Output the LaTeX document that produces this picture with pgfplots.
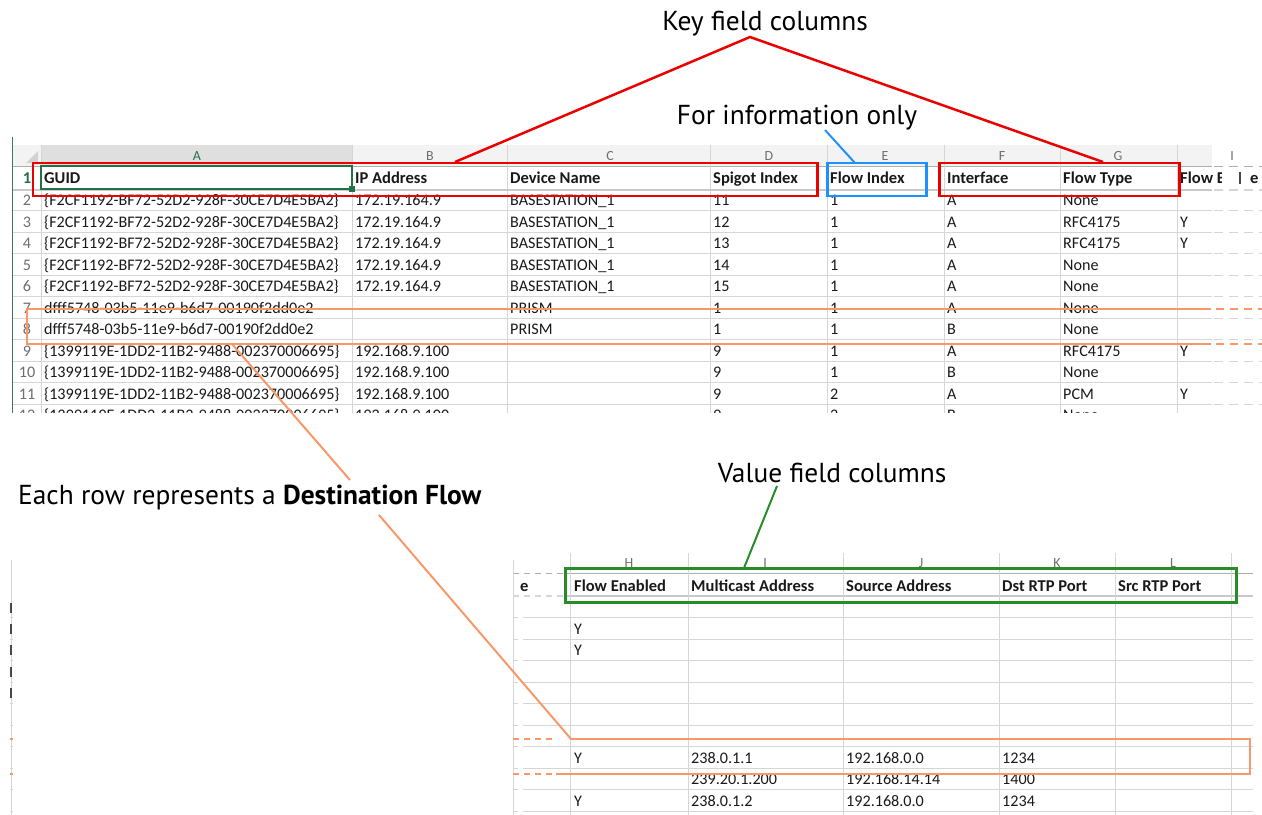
\documentclass[border=0pt]{standalone}
\usepackage{pgfplots}
\pgfplotsset{compat=1.18}
\usepackage{fontspec}
\setmainfont{Carlito}
\newfontfamily\annfont{PT Sans}
\definecolor{kred}{RGB}{235,0,0}
\definecolor{kblue}{RGB}{30,144,255}
\definecolor{kgreen}{RGB}{40,140,40}
\definecolor{korange}{RGB}{248,152,104}
\definecolor{gridc}{RGB}{214,214,214}
\definecolor{gridd}{RGB}{175,175,175}
\definecolor{celltxt}{RGB}{25,25,25}
\definecolor{hdrtxt}{RGB}{110,110,110}
\definecolor{selgreen}{RGB}{33,115,70}
\definecolor{hdrbg}{RGB}{243,243,243}
\definecolor{selbg}{RGB}{223,223,223}
\newcommand{\cf}{\fontsize{16.2}{19}\selectfont}
\newcommand{\hf}{\fontsize{16.6}{19}\selectfont\bfseries}
\newcommand{\lf}{\fontsize{14}{16}\selectfont}
\newcommand{\af}{\annfont\fontsize{27.5}{32}\selectfont}
\newcommand{\CellT}[3]{\node[anchor=base west,inner sep=0pt,text=celltxt,font=\cf] at (axis cs:#1,#2) {#3};}
\newcommand{\CellH}[3]{\node[anchor=base west,inner sep=0pt,text=celltxt,font=\hf] at (axis cs:#1,#2) {#3};}
\newcommand{\RowNum}[2]{\node[anchor=base,inner sep=0pt,text=hdrtxt,font=\cf] at (axis cs:27,#1) {#2};}
\newcommand{\TopRow}[9]{\CellT{44}{#1}{#2}\CellT{355}{#1}{#3}\CellT{510}{#1}{#4}\CellT{713}{#1}{#5}\CellT{830}{#1}{#6}\CellT{947}{#1}{#7}\CellT{1063}{#1}{#8}\CellT{1180}{#1}{#9}}
\newcommand{\BotRow}[6]{\CellT{574}{#1}{#2}\CellT{691}{#1}{#3}\CellT{846}{#1}{#4}\CellT{1002}{#1}{#5}\CellT{1118}{#1}{#6}}
\newcommand{\GA}{\{F2CF1192-BF72-52D2-928F-30CE7D4E5BA2\}}
\newcommand{\GB}{dfff5748-03b5-11e9-b6d7-00190f2dd0e2}
\newcommand{\GC}{\{1399119E-1DD2-11B2-9488-002370006695\}}
\begin{document}
\begin{tikzpicture}
\begin{axis}[width=1262bp,height=815bp,scale only axis,
  xmin=0,xmax=1262,ymin=0,ymax=815,y dir=reverse,
  hide axis,clip=false,no markers]
\coordinate (SW) at (axis cs:0,815);
\coordinate (NE) at (axis cs:1262,0);
% ---------- top sheet: header band
\addplot[fill=hdrbg,draw=none] coordinates {(13,145) (1212,145) (1212,166) (13,166)} --cycle;
\addplot[fill=selbg,draw=none] coordinates {(41,145) (352,145) (352,166) (41,166)} --cycle;
\addplot[fill=gray!35,draw=none] coordinates {(38,151) (38,163) (26,163)} --cycle;
% horizontal grid
\pgfplotsinvokeforeach{210.5,232,253.5,275,296.5,318,339.5,361,382.5,404}{
  \addplot[gridc,line width=1pt] coordinates {(13,#1) (1212,#1)};
  \addplot[gridc,line width=1pt,dash pattern=on 9pt off 6pt] coordinates {(1214,#1) (1262,#1)};
}
\addplot[gridd,line width=1pt] coordinates {(13,166) (1212,166)};
\addplot[gridd,line width=1pt,dash pattern=on 9pt off 6pt] coordinates {(1214,166) (1262,166)};
% vertical grid
\pgfplotsinvokeforeach{41,352,507,710,827,944,1060,1177}{
  \addplot[gridc,line width=1pt] coordinates {(#1,145) (#1,414)};
}
\addplot[selgreen!70!gray,line width=1pt] coordinates {(12,137) (12,414)};
% column letters
\node[text=selgreen,font=\lf] at (axis cs:197,156) {A};
\node[text=hdrtxt,font=\lf] at (axis cs:430,156) {B};
\node[text=hdrtxt,font=\lf] at (axis cs:610,156) {C};
\node[text=hdrtxt,font=\lf] at (axis cs:769,156) {D};
\node[text=hdrtxt,font=\lf] at (axis cs:885,156) {E};
\node[text=hdrtxt,font=\lf] at (axis cs:1002,156) {F};
\node[text=hdrtxt,font=\lf] at (axis cs:1118,156) {G};
\node[text=hdrtxt,font=\lf] at (axis cs:1232,156) {I};
% row numbers
\node[anchor=base,inner sep=0pt,text=selgreen,font=\hf] at (axis cs:27,184) {1};
\RowNum{205.5}{2}\RowNum{227}{3}\RowNum{248.5}{4}\RowNum{270}{5}\RowNum{291.5}{6}
\RowNum{313}{7}\RowNum{334.5}{8}\RowNum{356}{9}\RowNum{377.5}{10}\RowNum{399}{11}\RowNum{420.5}{12}
% header row
\CellH{44}{184}{GUID}\CellH{355}{184}{IP Address}\CellH{510}{184}{Device Name}
\CellH{713}{184}{Spigot Index}\CellH{830}{184}{Flow Index}\CellH{947}{184}{Interface}
\CellH{1063}{184}{Flow Type}\CellH{1180}{184}{Flow E}
% data rows
\TopRow{205.5}{\GA}{172.19.164.9}{BASESTATION\_1}{11}{1}{A}{None}{}
\TopRow{227}{\GA}{172.19.164.9}{BASESTATION\_1}{12}{1}{A}{RFC4175}{Y}
\TopRow{248.5}{\GA}{172.19.164.9}{BASESTATION\_1}{13}{1}{A}{RFC4175}{Y}
\TopRow{270}{\GA}{172.19.164.9}{BASESTATION\_1}{14}{1}{A}{None}{}
\TopRow{291.5}{\GA}{172.19.164.9}{BASESTATION\_1}{15}{1}{A}{None}{}
\TopRow{313}{\GB}{}{PRISM}{1}{1}{A}{None}{}
\TopRow{334.5}{\GB}{}{PRISM}{1}{1}{B}{None}{}
\TopRow{356}{\GC}{192.168.9.100}{}{9}{1}{A}{RFC4175}{Y}
\TopRow{377.5}{\GC}{192.168.9.100}{}{9}{1}{B}{None}{}
\TopRow{399}{\GC}{192.168.9.100}{}{9}{2}{A}{PCM}{Y}
\TopRow{420.5}{\GC}{192.168.9.100}{}{9}{2}{B}{None}{}
% cut the sheet image
\addplot[fill=white,draw=none] coordinates {(0,413) (1262,413) (1262,440) (0,440)} --cycle;
\addplot[fill=white,draw=none] coordinates {(1222,170) (1262,170) (1262,189) (1222,189)} --cycle;
\addplot[celltxt!80,line width=1.4pt] coordinates {(1240,172) (1240,184)};
\CellH{1250}{184}{e}
% frozen-pane line
\addplot[gridc!85!gray,line width=2.5pt] coordinates {(13,190) (1212,190)};
\addplot[gridc,line width=2.5pt,dash pattern=on 9pt off 6pt] coordinates {(1214,190) (1262,190)};
% selection box A1
\addplot[selgreen,line width=1.6pt] coordinates {(41,166) (352,166) (352,189) (41,189)} --cycle;
\addplot[fill=selgreen,draw=none] coordinates {(349,186) (355,186) (355,192) (349,192)} --cycle;
% ---------- bottom sheet
\pgfplotsinvokeforeach{617.5,639,660.5,682,703.5,725,746.5,768,789.5,811}{
  \addplot[gridc,line width=1pt] coordinates {(528,#1) (1253,#1)};
  \addplot[gridc,line width=1pt,dash pattern=on 5pt off 5pt] coordinates {(513,#1) (528,#1)};
  \addplot[gridc,line width=1pt,dash pattern=on 3pt off 7pt] coordinates {(10,#1) (14,#1)};
}
\addplot[gridd,line width=1pt] coordinates {(565,573) (1253,573)};
\addplot[gridd,line width=1pt,dash pattern=on 6pt off 5pt] coordinates {(513,573) (565,573)};
\addplot[gridc!85!gray,line width=2.5pt] coordinates {(565,596) (1253,596)};
\addplot[gridc,line width=2pt,dash pattern=on 6pt off 5pt] coordinates {(513,596) (565,596)};
\pgfplotsinvokeforeach{570,688,843,999,1115,1231}{
  \addplot[gridc,line width=1pt] coordinates {(#1,553) (#1,815)};
}
\addplot[gridc,line width=1pt] coordinates {(513,560) (513,815)};
\addplot[gridc,line width=1pt] coordinates {(11,560) (11,815)};
\pgfplotsinvokeforeach{608,629,650,672,693}{
  \addplot[celltxt!80,line width=1.6pt] coordinates {(11,#1-5) (11,#1+5)};
}
\node[text=hdrtxt,font=\lf] at (axis cs:629,563) {H};
\node[text=hdrtxt,font=\lf] at (axis cs:765,563) {I};
\node[text=hdrtxt,font=\lf] at (axis cs:921,563) {J};
\node[text=hdrtxt,font=\lf] at (axis cs:1057,563) {K};
\node[text=hdrtxt,font=\lf] at (axis cs:1173,563) {L};
\CellH{574}{591}{Flow Enabled}\CellH{691}{591}{Multicast Address}\CellH{846}{591}{Source Address}
\CellH{1002}{591}{Dst RTP Port}\CellH{1118}{591}{Src RTP Port}
\CellH{520}{591}{e}
\BotRow{634}{Y}{}{}{}{}
\BotRow{655.5}{Y}{}{}{}{}
\BotRow{763}{Y}{238.0.1.1}{192.168.0.0}{1234}{}
\BotRow{784.5}{}{239.20.1.200}{192.168.14.14}{1400}{}
\BotRow{806}{Y}{238.0.1.2}{192.168.0.0}{1234}{}
% ---------- annotation boxes
\addplot[kred,line width=3pt] coordinates {(33,163) (817,163) (817,196) (33,196)} --cycle;
\addplot[kred,line width=3pt] coordinates {(939,163) (1179,163) (1179,196) (939,196)} --cycle;
\addplot[kblue,line width=3pt] coordinates {(827,163) (926,163) (926,196) (827,196)} --cycle;
\addplot[kgreen,line width=3pt] coordinates {(565,568) (1236,568) (1236,602) (565,602)} --cycle;
% orange row highlight (top)
\addplot[korange,line width=2.5pt] coordinates {(1211,309) (27,309) (27,344) (1211,344)};
\addplot[korange,line width=2.5pt,dash pattern=on 8pt off 6pt] coordinates {(1216,309) (1262,309)};
\addplot[korange,line width=2.5pt,dash pattern=on 8pt off 6pt] coordinates {(1216,344) (1262,344)};
% orange row highlight (bottom)
\addplot[korange,line width=2.5pt] coordinates {(570,739) (1250,739) (1250,774) (556,774)};
\addplot[korange,line width=2.5pt,dash pattern=on 6pt off 5pt] coordinates {(513,739) (552,739)};
\addplot[korange,line width=2.5pt,dash pattern=on 6pt off 5pt] coordinates {(513,774) (552,774)};
\addplot[korange,line width=2.5pt] coordinates {(10,739) (13,739)};
\addplot[korange,line width=2.5pt] coordinates {(10,774) (13,774)};
% ---------- leader lines
\addplot[kred,line width=2.5pt] coordinates {(455,162) (750,37) (1103,162)};
\addplot[kblue,line width=2pt] coordinates {(825,130) (855,163)};
\addplot[kgreen,line width=2pt] coordinates {(777,486) (744,568)};
\addplot[korange,line width=2pt] coordinates {(232,344) (350,480)};
\addplot[korange,line width=2pt] coordinates {(379,515) (571,739)};
% ---------- annotation texts
\node[font=\af,text=black] at (axis cs:765,24) {Key field columns};
\node[font=\af,text=black] at (axis cs:797,118) {For information only};
\node[font=\af,text=black] at (axis cs:832,473) {Value field columns};
\node[font=\af,text=black,anchor=west,inner xsep=0pt] at (axis cs:18,497) {Each row represents a \textbf{Destination Flow}};
\end{axis}
\pgfresetboundingbox
\path (SW) rectangle (NE);
\end{tikzpicture}
\end{document}
